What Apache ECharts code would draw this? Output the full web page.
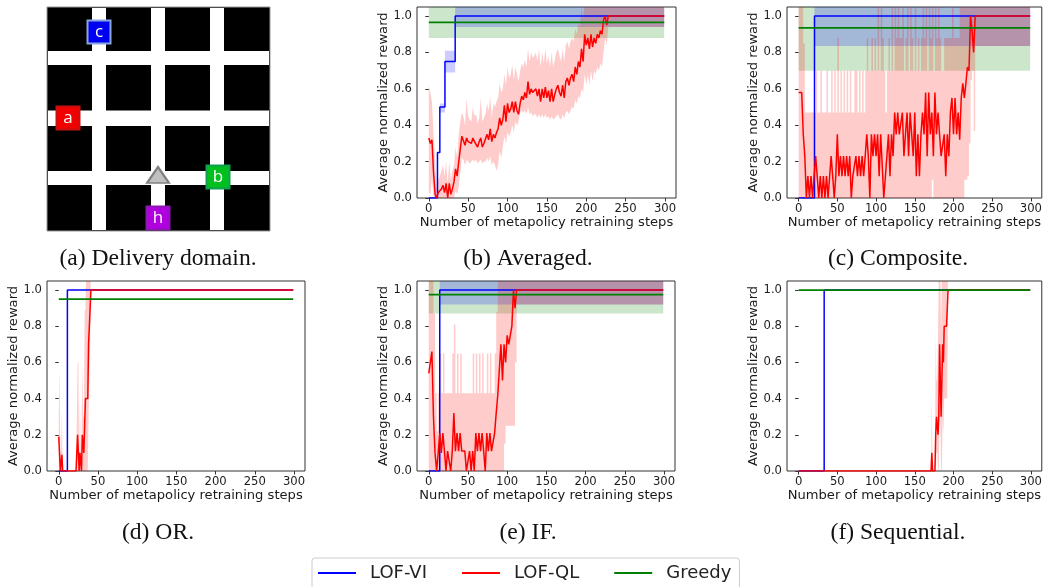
<!DOCTYPE html>
<html>
<head>
<meta charset="utf-8">
<style>html,body{margin:0;padding:0;background:#fff}#chart{width:1045px;height:587px;filter:blur(0.45px)}</style>
<script src="https://cdn.jsdelivr.net/npm/echarts@6/dist/echarts.min.js"></script>
</head>
<body>
<div id="chart"></div>
<script>
// ---------- tick labels ----------
const xTickValues = [0, 50, 100, 150, 200, 250, 300];
const yTickValues = [0, 0.2, 0.4, 0.6, 0.8, 1.0];
const captions = ['(a) Delivery domain.', '(b) Averaged.', '(c) Composite.', '(d) OR.', '(e) IF.', '(f) Sequential.'];
const xAxisTitle = 'Number of metapolicy retraining steps';
const yAxisTitle = 'Average normalized reward';

// ---------- (b) Averaged ----------
const bViX = [0, 11, 14, 20.5, 33.5, 299];
const bViY = [0, 0.25, 0.5, 0.75, 1, 1];
const bViBandX = [14, 20.5, 20.5, 33.5, 33.5, 299];
const bViBandLo = [0.47, 0.47, 0.69, 0.69, 0.94, 0.94];
const bViBandHi = [0.52, 0.52, 0.81, 0.81, 1.06, 1.06];
const bQlMean = [
 .33,.30,.32,.14,.02,.00,.03,.04,.05,.07,
 .03,.08,.00,.08,.02,.05,.09,.16,.12,.20,
 .27,.34,.33,.29,.33,.31,.30,.30,.33,.31,
 .32,.28,.31,.33,.28,.30,.31,.35,.32,.38,
 .31,.35,.33,.36,.38,.44,.40,.43,.51,.42,
 .52,.47,.49,.53,.47,.53,.48,.46,.52,.56,
 .54,.58,.55,.64,.57,.60,.58,.59,.60,.56,
 .60,.53,.60,.55,.61,.55,.59,.53,.60,.53,
 .57,.60,.62,.58,.56,.62,.55,.64,.66,.62,
 .66,.68,.64,.72,.68,.75,.72,.82,.75,.90,
 .84,.88,.82,.90,.83,.88,.85,.90,.88,.92,
 .90,.98,1.0,.95,1.0];
const bQlHi = [
 .62,.58,.53,.35,.20,.05,.10,.12,.15,.18,
 .12,.20,.08,.20,.10,.15,.18,.28,.22,.35,
 .42,.47,.45,.40,.55,.45,.43,.42,.50,.45,
 .46,.41,.44,.55,.42,.44,.46,.52,.48,.56,
 .44,.52,.50,.53,.55,.63,.58,.60,.68,.62,
 .72,.66,.68,.73,.65,.72,.68,.64,.70,.74,
 .72,.76,.72,.82,.75,.80,.77,.78,.80,.75,
 .82,.72,.80,.74,.82,.74,.78,.72,.80,.72,
 .76,.80,.82,.78,.75,.82,.75,.84,.86,.82,
 .86,.88,.86,.93,.90,.96,.94,1.05,.98,1.08,
 1.06,1.10,1.04,1.10,1.05,1.08,1.06,1.10,1.08,1.10,
 1.08,1.10,1.08,1.06,1.06];
const bQlLo = [
 .03,.02,.11,0,0,0,0,0,0,0,
 0,0,0,0,0,0,0,.04,.02,.06,
 .14,.22,.21,.18,.21,.20,.19,.20,.21,.20,
 .21,.19,.20,.21,.19,.20,.20,.22,.20,.23,
 .18,.20,.18,.15,.18,.26,.22,.28,.34,.30,
 .36,.34,.36,.40,.36,.42,.40,.42,.47,.48,
 .47,.48,.46,.50,.46,.47,.45,.46,.46,.44,
 .46,.44,.46,.44,.46,.44,.45,.43,.45,.43,
 .44,.45,.46,.44,.43,.46,.44,.47,.48,.46,
 .48,.50,.49,.54,.52,.56,.55,.60,.58,.68,
 .62,.68,.62,.70,.64,.70,.68,.72,.70,.74,
 .72,.80,.88,.84,.94];
const bQlTail = [299, 1.0, 1.06, 0.94];
const bGreedy = 0.965, bGreedyLo = 0.88, bGreedyHi = 1.1;

// ---------- (c) Composite ----------
const cViX = [0, 20.5, 299];
const cViY = [0, 1, 1];
const cViBandX = [20.5, 299];
const cViBandLo = [0.835, 0.835];
const cViBandHi = [1.1, 1.1];
const cQlMean = [
 .58,.58,.58,.35,.23,.00,.12,.00,.12,.00,
 .12,.23,.12,.00,.12,.00,.12,.00,.12,.00,
 .00,.23,.12,.00,.12,.35,.12,.23,.12,.23,
 .12,.23,.12,.23,.00,.12,.12,.23,.12,.23,
 .12,.23,.12,.23,.35,.23,.00,.35,.23,.35,
 .23,.35,.12,.35,.35,.00,.00,.23,.35,.12,
 .35,.23,.47,.35,.47,.35,.35,.47,.23,.35,
 .47,.23,.47,.35,.23,.47,.12,.35,.12,.35,
 .47,.35,.58,.23,.58,.35,.47,.23,.58,.35,
 .47,.35,.23,.23,.35,.12,.35,.23,.47,.55,
 .35,.55,.35,.47,.32,.55,.63,.55,.63,.72,
 .70,1.0,.92,.80,1.0];
const cQlHi = [
 1.1,1.1,1.1,.85,.47,.47,.47,.47,.47,.47,
 .47,.70,.47,.47,.70,.47,.47,.47,.70,.47,
 .47,.70,.47,.70,.47,.88,.47,.70,.47,.70,
 .47,.70,.47,.70,.47,.47,.70,.70,.47,.70,
 .47,.70,.47,.70,.88,.70,.70,.88,.70,.88,
 .70,1.05,.70,1.05,.88,.70,.47,.70,.88,.70,
 1.05,.70,1.1,.88,1.1,.88,.88,1.1,.70,.88,
 1.1,.70,1.1,.88,.70,1.1,.70,.88,.70,.88,
 1.1,.88,1.1,.70,1.1,.88,1.1,.70,1.1,.88,
 1.1,.88,.70,.70,.88,.88,.88,.88,.88,1.1,
 .88,.88,.88,.88,1.1,1.1,1.1,1.1,1.1,1.1,
 1.1,1.1,1.1,1.1,1.1];
const cQlLo = [
 0,0,0,0,0,0,0,0,0,0,
 0,0,0,0,0,0,0,0,0,0,
 0,0,0,0,0,0,0,0,0,0,
 0,0,0,0,0,0,0,0,0,0,
 0,0,0,0,0,0,0,0,0,0,
 0,0,0,0,0,0,0,0,0,0,
 0,0,0,0,0,0,0,0,0,0,
 0,0,0,0,0,0,0,0,0,0,
 0,0,0,0,0,0,.10,0,0,0,
 0,0,0,0,0,0,0,0,0,0,
 0,0,0,0,0,0,0,.10,.10,.12,
 .30,.65,.70,.37,.835];
const cQlTail = [299, 1.0, 1.1, 0.835];
const cGreedy = 0.935, cGreedyLo = 0.70, cGreedyHi = 1.1;

// ---------- (d) OR ----------
const dViX = [0, 11, 299];
const dViY = [0, 1, 1];
const dQlX = [0,1,2,3,4,5,22,24,25,26,27,28,29,30,31,32,33,34,35,37,38,40,41,299];
const dQlMean = [.19,.19,0,0,.09,0,0,.2,.2,0,.1,.1,0,.2,.2,.1,.1,.4,.4,.4,.7,.9,1,1];
const dQlHi = [.3,.57,.1,.1,.34,0,0,.6,.6,0,.4,.1,.1,.6,.3,.3,.89,.89,1.1,1.1,1.1,1.1,1.005,1.005];
const dQlLo = [0,0,0,0,0,0,0,0,0,0,0,0,0,0,0,0,0,0,0,0,.3,.7,.995,.995];
const dGreedy = 0.95;

// ---------- (e) IF ----------
const eViX = [0, 14, 299];
const eViY = [0, 1, 1];
const eViBandX = [14, 299];
const eViBandLo = [0.92, 0.92];
const eViBandHi = [1.1, 1.1];
const eQlMean = [
 .54,.54,.66,.30,.10,.00,.10,.21,.10,.21,
 .11,.00,.11,.11,.00,.11,.32,.11,.21,.11,
 .21,.11,.11,.11,.00,.00,.11,.00,.11,.00,
 .21,.11,.21,.11,.21,.11,.00,.21,.11,.21,
 .11,.11,.21,.32,.42,.43,.70,.50,.70,.60,
 .75,.70,.70,.80,1.0,.90,1.0];
const eQlHi = [
 1.1,1.1,1.1,.87,.43,.22,.43,.65,.43,.65,
 .43,.43,.43,.43,.43,.65,.81,.43,.65,.43,
 .65,.43,.43,.43,.43,.43,.43,.43,.65,.43,
 .65,.43,.65,.43,.65,.43,.43,.65,.43,.65,
 .43,.43,.65,.88,1.1,1.05,1.1,1.1,1.1,1.1,
 1.1,1.1,1.1,1.1,1.1,1.1,1.1];
const eQlLo = [
 0,0,0,0,0,0,0,0,0,0,
 0,0,0,0,0,0,0,0,0,0,
 0,0,0,0,0,0,0,0,0,0,
 0,0,0,0,0,0,0,0,0,0,
 0,0,0,0,0,0,0,0,.15,.25,
 .25,.25,.25,.25,.25,.60,.92];
const eQlTail = [299, 1.0, 1.1, 0.92];
const eGreedy = 0.975, eGreedyLo = 0.87, eGreedyHi = 1.1;

// ---------- (f) Sequential ----------
const fViX = [0, 33, 299];
const fViY = [0, 1, 1];
const fQlX = [0,171,172,173,176,177,178,179,180,181,182,183,184,185,186,187,188,191,192,193,299];
const fQlMean = [0,0,.1,0,0,.2,.3,.3,.2,.3,.7,.7,.3,.3,.7,.6,.8,.8,.9,1,1];
const fQlHi = [0,0,.4,0,0,.75,.5,.5,.75,1.1,1.1,1.1,.75,1.1,1.1,1.1,1.1,1.1,1.1,1.0,1.0];
const fQlLo = [0,0,0,0,0,0,.1,.1,0,0,.3,.3,0,0,.3,.2,.4,.4,.4,1.0,1.0];
const fGreedy = 1.0;

// ---------- (a) Delivery domain, in map units ----------
const mapWidth = 223, mapHeight = 224;
const corridorColumns = [[45, 59], [104, 118], [163, 177]];
const corridorRows = [[44, 58], [103.5, 119], [164, 178]];
const mapObjects = [
 {name: 'a', at: [21, 111], color: '#f00000', edge: '#c81010'},
 {name: 'b', at: [171, 170], color: '#00c020', edge: '#10a050'},
 {name: 'c', at: [52, 25], color: '#0000f0', edge: '#88a8dc'},
 {name: 'h', at: [111, 211], color: '#b000e0', edge: '#8c18b0'}
];
const agentAt = [111, 168];

// ---------- styling ----------
const FONT = 'DejaVu Sans';
const BLUE = '#0000ff', RED = '#ff0000', GREEN = '#008000';
const TEXT = '#1a1a1a';

const panels = [
 {left: 417, top: 7, width: 259, height: 191},
 {left: 787, top: 7, width: 257, height: 191},
 {left: 47, top: 281, width: 258, height: 190},
 {left: 417, top: 281, width: 258, height: 190},
 {left: 787, top: 281, width: 257, height: 190}
];
const grids = panels.map(p => ({...p, show: true, borderColor: '#333', borderWidth: 1, backgroundColor: 'transparent', containLabel: false}));
grids.push({left: 47, top: 7, width: mapWidth, height: mapHeight, show: true, backgroundColor: '#000', borderColor: '#999', borderWidth: 1});

const xAxes = panels.map((_, i) => ({
 type: 'value', gridIndex: i, min: -15, max: 314, splitLine: {show: false},
 axisLine: {show: false},
 axisTick: {show: true, length: 3.5, lineStyle: {color: '#333', width: 1}, customValues: xTickValues},
 axisLabel: {fontFamily: FONT, fontSize: 11.6, color: TEXT, margin: 5, customValues: xTickValues, hideOverlap: false},
 name: xAxisTitle, nameLocation: 'middle', nameGap: 16,
 nameTextStyle: {fontFamily: FONT, fontSize: 13.1, color: TEXT, verticalAlign: 'top'}
}));
const yAxes = panels.map((_, i) => ({
 type: 'value', gridIndex: i, min: 0, max: 1.05, splitLine: {show: false},
 axisLine: {show: false},
 axisTick: {show: true, length: 3.5, lineStyle: {color: '#333', width: 1}, customValues: yTickValues},
 axisLabel: {fontFamily: FONT, fontSize: 11.6, color: TEXT, margin: 5, customValues: yTickValues, formatter: v => v.toFixed(1)},
 name: yAxisTitle, nameLocation: 'middle', nameGap: 18,
 nameTextStyle: {fontFamily: FONT, fontSize: 13.1, color: TEXT}
}));
xAxes.push({type: 'value', gridIndex: 5, min: 0, max: mapWidth, show: false});
yAxes.push({type: 'value', gridIndex: 5, min: 0, max: mapHeight, inverse: true, show: false});

function band(name, idx, color, xs, lo, hi, stepped) {
 const rows = xs.map((x, i) => [x, lo[i], hi[i]]);
 return {
  name, type: 'custom', xAxisIndex: idx, yAxisIndex: idx, clip: true, z: 1, silent: true,
  data: rows, encode: {x: 0, y: [1, 2]},
  renderItem(params, api) {
   if (params.dataIndex !== 0) return null;
   const edge = col => {
    const pts = [];
    rows.forEach((r, i) => {
     if (stepped && i > 0) pts.push(api.coord([r[0], rows[i - 1][col]]));
     pts.push(api.coord([r[0], r[col]]));
    });
    return pts;
   };
   return {type: 'polygon', shape: {points: edge(2).concat(edge(1).reverse())}, style: {fill: color, opacity: 0.2}};
  }
 };
}
function line(name, idx, color, xs, ys, step) {
 return {
  name, type: 'line', xAxisIndex: idx, yAxisIndex: idx, z: 3, silent: true,
  showSymbol: false, symbol: 'none', step: step ? 'end' : false,
  data: xs.map((x, i) => [x, ys[i]]),
  lineStyle: {color, width: name === 'Greedy' ? 1.7 : 1.5}, itemStyle: {color}, clip: true
 };
}
// the values were read every 2 retraining steps; the tail closes the run
function evenSteps(values, tail) {
 return values.map((_, i) => i * 2).concat(tail[0]);
}
const bX = evenSteps(bQlMean, bQlTail);
const cX = evenSteps(cQlMean, cQlTail);
const eX = evenSteps(eQlMean, eQlTail);

const series = [
 // panel (b)
 band('Greedy range b', 0, GREEN, [0, 299], [bGreedyLo, bGreedyLo], [bGreedyHi, bGreedyHi]),
 band('LOF-VI range b', 0, BLUE, bViBandX, bViBandLo, bViBandHi),
 band('LOF-QL range b', 0, RED, bX, bQlLo.concat(bQlTail[3]), bQlHi.concat(bQlTail[2])),
 line('LOF-VI', 0, BLUE, bViX, bViY, true),
 line('LOF-QL', 0, RED, bX, bQlMean.concat(bQlTail[1])),
 line('Greedy', 0, GREEN, [0, 299], [bGreedy, bGreedy]),
 // panel (c)
 band('Greedy range c', 1, GREEN, [0, 299], [cGreedyLo, cGreedyLo], [cGreedyHi, cGreedyHi]),
 band('LOF-VI range c', 1, BLUE, cViBandX, cViBandLo, cViBandHi),
 band('LOF-QL range c', 1, RED, cX, cQlLo.concat(cQlTail[3]), cQlHi.concat(cQlTail[2]), true),
 line('LOF-VI', 1, BLUE, cViX, cViY, true),
 line('LOF-QL', 1, RED, cX, cQlMean.concat(cQlTail[1])),
 line('Greedy', 1, GREEN, [0, 299], [cGreedy, cGreedy]),
 // panel (d)
 band('LOF-QL range d', 2, RED, dQlX, dQlLo, dQlHi),
 line('LOF-VI', 2, BLUE, dViX, dViY, true),
 line('LOF-QL', 2, RED, dQlX, dQlMean),
 line('Greedy', 2, GREEN, [0, 299], [dGreedy, dGreedy]),
 // panel (e)
 band('Greedy range e', 3, GREEN, [0, 299], [eGreedyLo, eGreedyLo], [eGreedyHi, eGreedyHi]),
 band('LOF-VI range e', 3, BLUE, eViBandX, eViBandLo, eViBandHi),
 band('LOF-QL range e', 3, RED, eX, eQlLo.concat(eQlTail[3]), eQlHi.concat(eQlTail[2]), true),
 line('LOF-VI', 3, BLUE, eViX, eViY, true),
 line('LOF-QL', 3, RED, eX, eQlMean.concat(eQlTail[1])),
 line('Greedy', 3, GREEN, [0, 299], [eGreedy, eGreedy]),
 // panel (f)
 band('LOF-QL range f', 4, RED, fQlX, fQlLo, fQlHi),
 line('LOF-VI', 4, BLUE, fViX, fViY, true),
 line('LOF-QL', 4, RED, fQlX, fQlMean),
 line('Greedy', 4, GREEN, [0, 299], [fGreedy, fGreedy]),
 // panel (a) map
 {
  name: 'corridors', type: 'custom', xAxisIndex: 5, yAxisIndex: 5, silent: true, z: 2,
  data: corridorColumns.map(c => [c[0], 1, c[1], mapHeight - 1])
   .concat(corridorRows.map(r => [1, r[0], mapWidth - 1, r[1]])),
  renderItem(params, api) {
   const a = api.coord([api.value(0), api.value(1)]);
   const b = api.coord([api.value(2), api.value(3)]);
   return {type: 'rect', shape: {x: a[0], y: a[1], width: b[0] - a[0], height: b[1] - a[1]}, style: {fill: '#fff'}};
  }
 },
 {
  name: 'agent', type: 'scatter', xAxisIndex: 5, yAxisIndex: 5, silent: true, z: 3,
  symbol: 'triangle', symbolSize: [22, 16],
  itemStyle: {color: '#c0c0c0', borderColor: '#808080', borderWidth: 2, opacity: 1},
  data: [agentAt]
 },
 {
  name: 'objects', type: 'scatter', xAxisIndex: 5, yAxisIndex: 5, silent: true, z: 4,
  symbol: 'rect', symbolSize: 23,
  data: mapObjects.map(o => ({
   name: o.name, value: o.at,
   itemStyle: {color: o.color, borderColor: o.edge, borderWidth: 2, opacity: 1}
  })),
  label: {show: true, position: 'inside', formatter: '{b}', color: '#fff', fontFamily: 'Open Sans', fontSize: 17}
 }
];

const captionPlaces = [[158, 247], [528, 247], [898, 247], [158, 521], [528, 521], [898, 521]];
const titles = captions.map((text, i) => ({
 text, left: captionPlaces[i][0], top: captionPlaces[i][1], textAlign: 'center', padding: 0,
 textStyle: {fontFamily: 'Liberation Serif', fontSize: 23.6, fontWeight: 'normal', color: '#111'}
}));

const chart = echarts.init(document.getElementById('chart'), null, {renderer: 'canvas'});
chart.setOption({
 animation: false, backgroundColor: '#fff', tooltip: {show: false},
 title: titles, grid: grids, xAxis: xAxes, yAxis: yAxes, series,
 legend: {
  left: 312, top: 558, orient: 'horizontal', selectedMode: false,
  data: ['LOF-VI', 'LOF-QL', 'Greedy'], icon: 'rect', itemWidth: 38, itemHeight: 2, itemGap: 35,
  padding: [6, 8, 18, 6], borderColor: '#ccc', borderWidth: 1, borderRadius: 3,
  textStyle: {fontFamily: FONT, fontSize: 18, color: '#222', padding: [0, 0, 0, 9]}
 }
});
</script>
</body>
</html>
